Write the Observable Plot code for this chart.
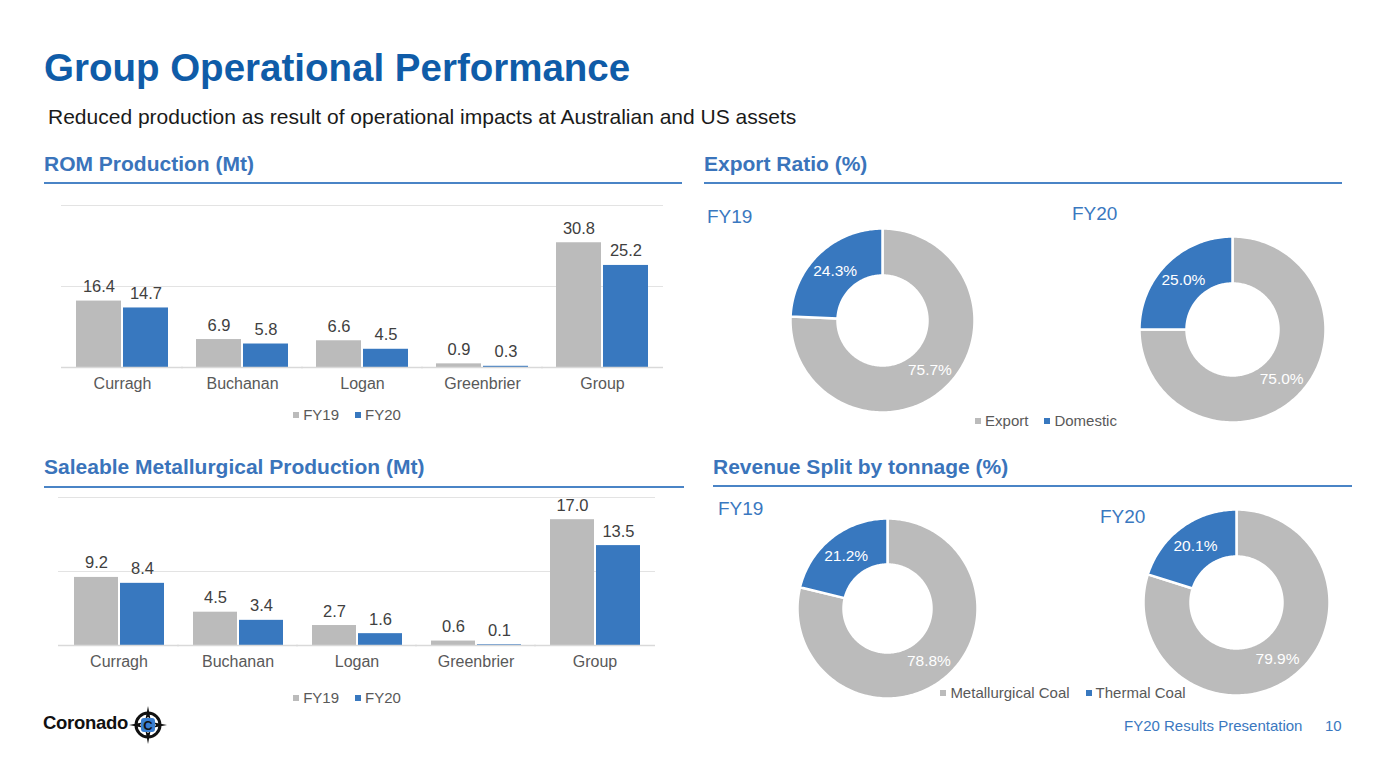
<!DOCTYPE html>
<html>
<head>
<meta charset="utf-8">
<script src="https://cdn.jsdelivr.net/npm/d3@7"></script>
<script src="https://cdn.jsdelivr.net/npm/@observablehq/plot@0.6"></script>
<style>
  html, body { margin: 0; padding: 0; background: #fff; }
  #slide { position: relative; width: 1386px; height: 780px; overflow: hidden; font-family: "Liberation Sans", Arial, sans-serif; }
  .abs { position: absolute; white-space: nowrap; }
  .title { left: 44px; top: 46px; font-size: 38.5px; font-weight: bold; color: #0F5CA8; }
  .subtitle { left: 48px; top: 105px; font-size: 21px; color: #1a1a1a; }
  .section { font-size: 21px; font-weight: bold; color: #3A74BB; }
  .rule { position: absolute; height: 2px; background: #4A84C6; }
  .fy { font-size: 19px; color: #3A78C0; }
  .legend { font-size: 15px; color: #595959; text-align: center; }
  .sw { display: inline-block; width: 6px; height: 6px; margin-right: 4px; vertical-align: middle; position: relative; top: -1px; }
  .legend .item { margin: 0 8px; }
  .footer { font-size: 15px; color: #3A78C0; }
  svg { overflow: visible; }
</style>
</head>
<body>
<div id="slide">
  <div class="abs title">Group Operational Performance</div>
  <div class="abs subtitle">Reduced production as result of operational impacts at Australian and US assets</div>

  <div class="abs section" style="left:44px; top:152px;">ROM Production (Mt)</div>
  <div class="rule" style="left:44px; top:182px; width:638px;"></div>
  <div class="abs section" style="left:704px; top:152px;">Export Ratio (%)</div>
  <div class="rule" style="left:704px; top:182px; width:638px;"></div>
  <div class="abs section" style="left:44px; top:455px;">Saleable Metallurgical Production (Mt)</div>
  <div class="rule" style="left:44px; top:486px; width:640px;"></div>
  <div class="abs section" style="left:713px; top:455px;">Revenue Split by tonnage (%)</div>
  <div class="rule" style="left:713px; top:485px; width:639px;"></div>

  <div class="abs fy" style="left:707px; top:206px;">FY19</div>
  <div class="abs fy" style="left:1072px; top:203px;">FY20</div>
  <div class="abs fy" style="left:718px; top:498px;">FY19</div>
  <div class="abs fy" style="left:1100px; top:506px;">FY20</div>

  <div class="abs footer" style="left:1124px; top:717px;">FY20 Results Presentation</div>
  <div class="abs footer" style="left:1325px; top:717px;">10</div>

  <div class="abs" style="left:43px; top:712px; font-size:18.5px; font-weight:bold; color:#111; letter-spacing:-0.3px;">Coronado</div>
  <svg class="abs" style="left:128px; top:705px;" width="40" height="40" viewBox="-20 -20 40 40">
    <polygon points="0,-19 2.5,-6 0,-8 -2.5,-6" fill="#111"/>
    <polygon points="0,19 2.5,6 0,8 -2.5,6" fill="#111"/>
    <polygon points="-19,0 -6,2.5 -8,0 -6,-2.5" fill="#111"/>
    <polygon points="19,0 6,2.5 8,0 6,-2.5" fill="#111"/>
    <circle r="12" fill="none" stroke="#111" stroke-width="3"/>
    <rect x="-7" y="-7" width="14" height="14" rx="3" fill="#3A7FD0"/>
    <text x="0" y="5" text-anchor="middle" font-size="13" font-weight="bold" fill="#111" font-family="Liberation Sans, Arial">C</text>
  </svg>

  <div id="charts"></div>
</div>

<script>
// ---------------- Data ----------------
const categories = ["Curragh", "Buchanan", "Logan", "Greenbrier", "Group"];
const seriesNames = ["FY19", "FY20"];

const romFY19 = [16.4, 6.9, 6.6, 0.9, 30.8];
const romFY20 = [14.7, 5.8, 4.5, 0.3, 25.2];
const romGrid = [0, 20, 40];

const saleFY19 = [9.2, 4.5, 2.7, 0.6, 17.0];
const saleFY20 = [8.4, 3.4, 1.6, 0.1, 13.5];
const saleGrid = [0, 10, 20];

const exportLabels = ["Export", "Domestic"];
const exportFY19 = [75.7, 24.3];
const exportFY20 = [75.0, 25.0];

const revenueLabels = ["Metallurgical Coal", "Thermal Coal"];
const revenueFY19 = [78.8, 21.2];
const revenueFY20 = [79.9, 20.1];

// ---------------- Style ----------------
const FONT = "'Liberation Sans', Arial, sans-serif";
const GRAY = "#BBBBBB";
const BLUE = "#3878BF";
const slide = document.getElementById("charts");

function place(node, left, top) {
  node.style.position = "absolute";
  node.style.left = left + "px";
  node.style.top = top + "px";
  slide.appendChild(node);
}

function legend(names, centerX, top) {
  const div = document.createElement("div");
  div.className = "legend";
  div.style.position = "absolute";
  div.style.left = (centerX - 200) + "px";
  div.style.width = "400px";
  div.style.top = top + "px";
  const colors = [GRAY, BLUE];
  names.forEach((n, i) => {
    const s = document.createElement("span");
    s.className = "item";
    s.innerHTML = `<span class="sw" style="background:${colors[i]}"></span>${n}`;
    div.appendChild(s);
  });
  slide.appendChild(div);
}

function barChart(fy19, fy20, grid, o) {
  const data = categories.flatMap((c, i) => [
    {cat: c, series: seriesNames[0], value: fy19[i]},
    {cat: c, series: seriesNames[1], value: fy20[i]}
  ]);
  const yMax = d3.max(grid);
  const plot = Plot.plot({
    width: o.width,
    height: o.height,
    marginTop: o.marginTop,
    marginBottom: o.marginBottom,
    marginLeft: 0,
    marginRight: 0,
    style: {fontFamily: FONT, fontSize: "16px", color: "#595959", background: "transparent", overflow: "visible"},
    fx: {domain: categories, paddingInner: 0.22, paddingOuter: 0.11, label: null, axis: "bottom", tickSize: 0, tickPadding: 10},
    x: {domain: seriesNames, padding: 0, axis: null},
    y: {domain: [0, yMax], axis: null},
    color: {domain: seriesNames, range: [GRAY, BLUE]},
    marks: [
      Plot.ruleY(grid.filter(d => d > 0), {stroke: "#E3E3E3", strokeWidth: 1, insetLeft: -14, insetRight: -14}),
      Plot.barY(data, {fx: "cat", x: "series", y: "value", fill: "series", insetLeft: 1, insetRight: 1}),
      Plot.ruleY([0], {stroke: "#D9D9D9", strokeWidth: 1.5, insetLeft: -14, insetRight: -14}),
      Plot.text(data, {fx: "cat", x: "series", y: "value", text: d => d.value.toFixed(1), dy: -9, lineAnchor: "bottom", fill: "#404040", fontSize: 16.5})
    ]
  });
  place(plot, o.left, o.top);
}

function donut(labels, values, cx, cy, R, r) {
  const S = R + 6;
  const total = d3.sum(values);
  const pts = [];
  const lbls = [];
  let cum = 0;
  values.forEach((v, i) => {
    const a0 = 2 * Math.PI * cum / total;
    const a1 = 2 * Math.PI * (cum + v) / total;
    const n = Math.max(2, Math.ceil((a1 - a0) / 0.02));
    for (let k = 0; k <= n; k++) {
      const a = a0 + (a1 - a0) * k / n;
      pts.push({slice: labels[i], x: R * Math.sin(a), y: R * Math.cos(a)});
    }
    for (let k = n; k >= 0; k--) {
      const a = a0 + (a1 - a0) * k / n;
      pts.push({slice: labels[i], x: r * Math.sin(a), y: r * Math.cos(a)});
    }
    const am = (a0 + a1) / 2, rm = (R + r) / 2;
    lbls.push({x: rm * Math.sin(am), y: rm * Math.cos(am), text: v.toFixed(1) + "%"});
    cum += v;
  });
  const plot = Plot.plot({
    width: 2 * S,
    height: 2 * S,
    margin: 0,
    style: {fontFamily: FONT, background: "transparent", overflow: "visible"},
    x: {domain: [-S, S], axis: null},
    y: {domain: [-S, S], axis: null},
    color: {domain: labels, range: [GRAY, BLUE]},
    marks: [
      Plot.line(pts, {x: "x", y: "y", z: "slice", fill: "slice", stroke: "white", strokeWidth: 2.5, curve: "linear-closed"}),
      Plot.text(lbls, {x: "x", y: "y", text: "text", fill: "white", fontSize: 15.5})
    ]
  });
  place(plot, cx - S, cy - S);
}

// ---------------- Charts ----------------
barChart(romFY19, romFY20, romGrid, {left: 62, top: 190, width: 600, height: 212, marginTop: 15, marginBottom: 35});
legend(seriesNames, 347, 406);

barChart(saleFY19, saleFY20, saleGrid, {left: 58, top: 485, width: 597, height: 195, marginTop: 12, marginBottom: 35});
legend(seriesNames, 347, 689);

donut(exportLabels, exportFY19, 882, 320, 92, 45);
donut(exportLabels, exportFY20, 1232, 329, 93, 46);
legend(exportLabels, 1046, 412);

donut(revenueLabels, revenueFY19, 887, 608, 90, 44);
donut(revenueLabels, revenueFY20, 1236, 602, 93, 46);
legend(revenueLabels, 1063, 684);
</script>
</body>
</html>
